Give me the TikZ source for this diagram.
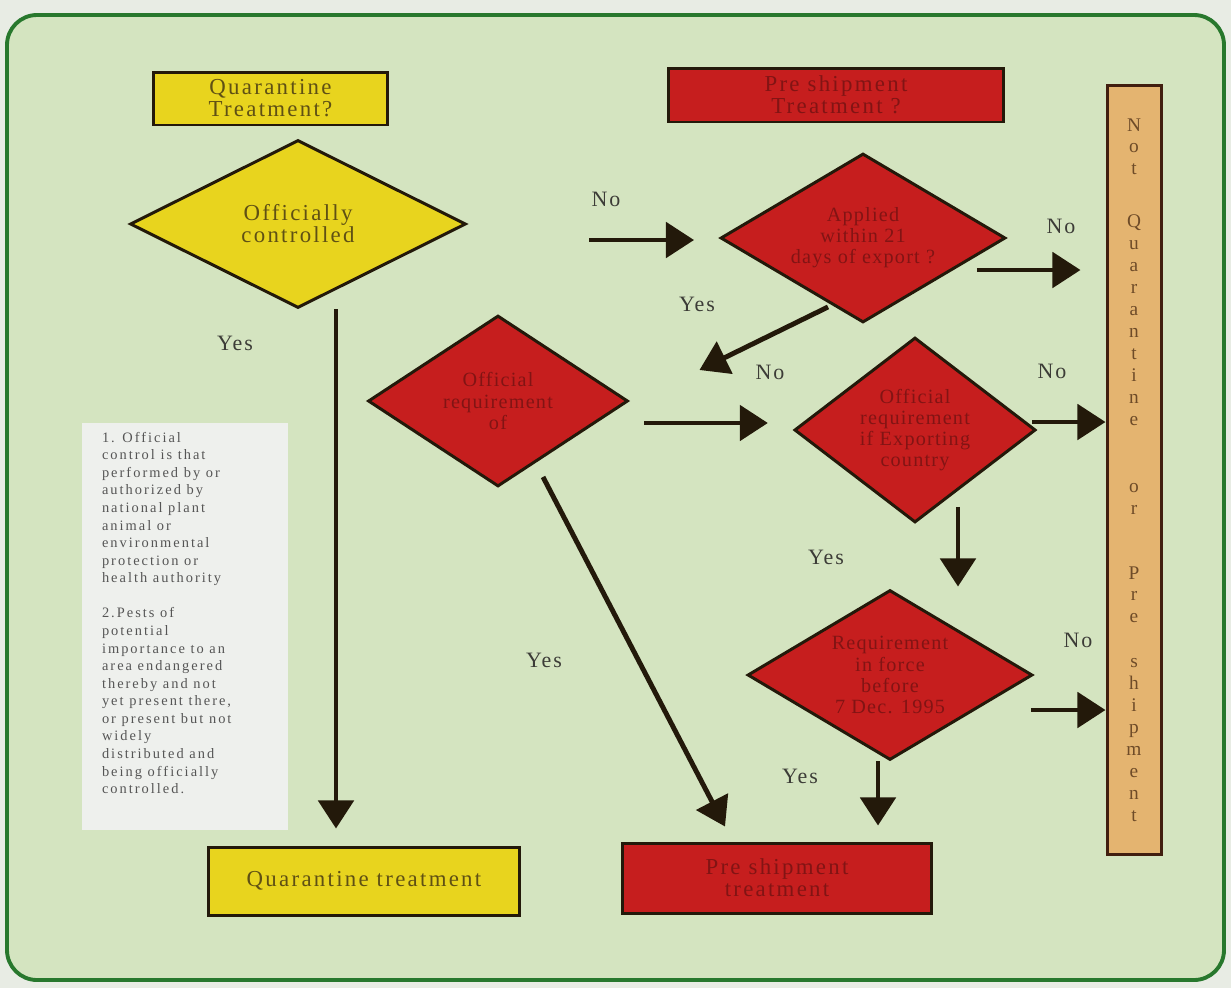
\documentclass[tikz,border=0pt]{standalone}
\usepackage{fontspec}
\setmainfont{Liberation Serif}
\usepackage{xcolor}
\usepackage{tikz}
\usetikzlibrary{shapes,arrows.meta,calc,positioning}
\definecolor{pagegrey}{RGB}{232,236,228}
\definecolor{panelgreen}{RGB}{212,228,192}
\definecolor{bordergreen}{RGB}{40,120,45}
\definecolor{qyellow}{RGB}{232,212,30}
\definecolor{qtext}{RGB}{95,80,20}
\definecolor{pred}{RGB}{198,30,30}
\definecolor{ptext}{RGB}{130,20,20}
\definecolor{ntan}{RGB}{228,180,112}
\definecolor{nbrown}{RGB}{65,30,15}
\definecolor{ntext}{RGB}{110,75,40}
\definecolor{notefill}{RGB}{238,240,237}
\definecolor{notetext}{RGB}{85,85,85}
\definecolor{lblgrey}{RGB}{60,60,55}
\definecolor{edgedark}{RGB}{35,25,10}
\newcommand{\boxfont}{\fontsize{13}{12.5}\selectfont\addfontfeature{LetterSpace=10}}
\newcommand{\choicefont}{\fontsize{11.5}{12}\selectfont\addfontfeature{LetterSpace=6}}
\newcommand{\lblfont}{\fontsize{12.5}{14}\selectfont\addfontfeature{LetterSpace=9}}
\newcommand{\notefont}{\fontsize{8.2}{10}\selectfont\addfontfeature{LetterSpace=14}}
\newcommand{\nqfont}{\fontsize{11}{12.5}\selectfont}
\tikzset{
	box/.style={rectangle, draw=edgedark, line width=1.7pt, inner sep=0pt, align=center, font=\boxfont},
	yellowbox/.style={box, fill=qyellow, text=qtext},
	redbox/.style={box, fill=pred, text=ptext},
	choice/.style={diamond, draw=edgedark, line width=1.7pt, inner sep=0pt, aspect=1.6, align=center, font=\choicefont},
	ychoice/.style={choice, fill=qyellow, text=qtext, font=\boxfont},
	rchoice/.style={choice, fill=pred, text=ptext},
	flow/.style={draw=edgedark, line width=2.8pt, -{Triangle[length=16pt,width=20pt]}},
	lbl/.style={font=\lblfont, text=lblgrey, inner sep=0pt}
}

\begin{document}
\begin{tikzpicture}[x=0.02cm,y=-0.02cm]
    \useasboundingbox (0,0) rectangle (1231,988);
    \fill[pagegrey] (0,0) rectangle (1231,988);
    \draw[line width=2.2pt, draw=bordergreen, fill=panelgreen, rounded corners=0.6cm] (7,15) rectangle (1224,980);

    \node[yellowbox, minimum width=4.7cm, minimum height=1.06cm] (qtq) at (270.5,98.5) {Quarantine\\Treatment?};
    \node[redbox, minimum width=6.72cm, minimum height=1.08cm] (psq) at (836,95) {Pre shipment\\Treatment ?};

    \node[ychoice, minimum width=6.72cm, minimum height=3.36cm] (oc) at (298,224) {Officially\\controlled};
    \node[rchoice, minimum width=5.7cm, minimum height=3.38cm] (ap) at (863,238) {Applied\\within 21\\days of export ?};
    \node[rchoice, minimum width=5.2cm, minimum height=3.42cm] (orq) at (498,401) {Official\\requirement\\of};
    \node[rchoice, minimum width=4.72cm, minimum height=3.7cm] (oe) at (915,430) {Official\\requirement\\if Exporting\\country};
    \node[rchoice, minimum width=5.7cm, minimum height=3.4cm] (rif) at (890,675) {Requirement\\in force\\before\\7 Dec. 1995};

    \node[yellowbox, minimum width=6.24cm, minimum height=1.36cm] (qt) at (364,881) {Quarantine treatment};
    \node[redbox, minimum width=6.2cm, minimum height=1.4cm] (ps) at (777,878) {Pre shipment\\treatment};

    \node[box, fill=ntan, draw=nbrown, text=ntext, font=\nqfont, minimum width=1.08cm, minimum height=15.4cm] (nq) at (1134,470)
        {N\\o\\t\\[17.6pt]Q\\u\\a\\r\\a\\n\\t\\i\\n\\e\\[25.5pt]o\\r\\[24.4pt]P\\r\\e\\[13pt]s\\h\\i\\p\\m\\e\\n\\t};

    \node[rectangle, fill=notefill, minimum width=4.12cm, minimum height=8.14cm] (note) at (185,626.5) {};
    \node[anchor=north west, align=left, inner sep=0pt, font=\notefont, text=notetext] (notetxt) at ($(note.north west)+(20,9)$)
        {1. Official\\control is that\\performed by or\\authorized by\\national plant\\animal or\\environmental\\protection or\\health authority\\[10pt]2.Pests of\\potential\\importance to an\\area endangered\\thereby and not\\yet present there,\\or present but not\\widely\\distributed and\\being officially\\controlled.};

    % connectors
    \path ($(oc.south)+(38,0)$) edge[flow] ($(qt.north)+(-28,-17)$);
    \path ($(ap.west)+(-130,2)$) edge[flow] ($(ap.west)+(-25,2)$);
    \path ($(ap.east)+(-30,32)$) edge[flow] ($(ap.east -| nq.west)+(-25,32)$);
    \path ($(ap.south)+(-35,-17)$) edge[flow] ($(orq.east)+(70,-31)$);
    \path ($(orq.east)+(15,22)$) edge[flow] ($(oe.west)+(-25,-7)$);
    \path ($(oe.east)+(-5,-8)$) edge[flow] ($(oe.east -| nq.west)+(0,-8)$);
    \path ($(oe.south)+(43,-17)$) edge[flow] ($(rif.north)+(68,-2)$);
    \path ($(rif.east)+(-3,35)$) edge[flow] ($(rif.east -| nq.west)+(0,35)$);
    \path ($(rif.south)+(-12,0)$) edge[flow] ($(ps.north)+(101,-16)$);
    \path ($(orq.south)+(45,-11)$) edge[flow] ($(ps.north)+(-52,-15)$);

    % labels
    \node[lbl] (yes1) at (235,343) {Yes};
    \node[lbl] (no1) at (606,199) {No};
    \node[lbl] (no2) at (1061,226) {No};
    \node[lbl] (yes2) at (697,304) {Yes};
    \node[lbl] (no3) at (770,372) {No};
    \node[lbl] (no4) at (1052,371) {No};
    \node[lbl] (yes3) at (826,557) {Yes};
    \node[lbl] (no5) at (1078,640) {No};
    \node[lbl] (yes4) at (800,776) {Yes};
    \node[lbl] (yes5) at (544,660) {Yes};
\end{tikzpicture}
\end{document}
